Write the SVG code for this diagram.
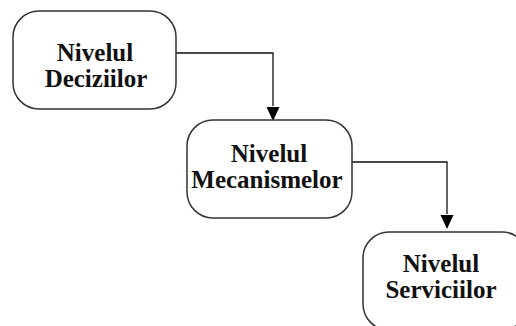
<svg xmlns="http://www.w3.org/2000/svg" width="516" height="326" viewBox="0 0 516 326">
<style>
.box{fill:#fff;stroke:#333;stroke-width:1.5}
.t{font-family:"Liberation Serif","Times New Roman",serif;font-weight:bold;font-size:25px;fill:#111;text-anchor:middle}
.c{fill:none;stroke:#111;stroke-width:1.3}
.ah{fill:#000}
</style>
<rect width="516" height="326" fill="#fff"/>
<g id="connectors">
<path class="c" d="M176,53 H273 V106"/>
<polygon class="ah" points="266.5,107 279.5,107 273,121"/>
<path class="c" d="M352,162 H447 V214"/>
<polygon class="ah" points="440.5,215 453.5,215 447,229"/>
</g>
<g id="node1">
<rect class="box" x="13" y="11" width="163" height="98" rx="26"/>
<text class="t" x="95" y="61">Nivelul</text>
<text class="t" x="96" y="87">Deciziilor</text>
</g>
<g id="node2">
<rect class="box" x="187" y="120" width="165" height="98" rx="26"/>
<text class="t" x="269" y="162">Nivelul</text>
<text class="t" x="267" y="188">Mecanismelor</text>
</g>
<g id="node3">
<rect class="box" x="363" y="232" width="165" height="98" rx="26"/>
<text class="t" x="441" y="272">Nivelul</text>
<text class="t" x="441" y="298">Serviciilor</text>
</g>
</svg>
